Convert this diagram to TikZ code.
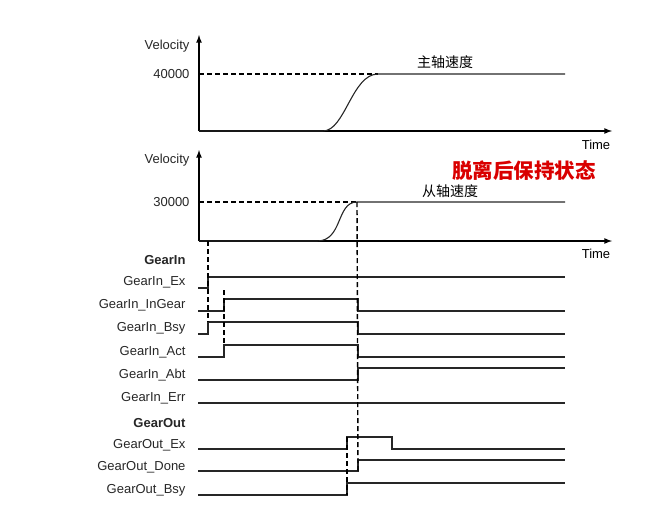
\documentclass[tikz,border=0pt]{standalone}
\usepackage{fontspec}
\setmainfont{Liberation Sans}
\newfontfamily\cjk{Noto Sans CJK SC}
\begin{document}
\begin{tikzpicture}[x=1pt,y=-1pt,
  lbl/.style={anchor=east,font=\fontsize{13}{14}\selectfont,text=black!85},
  sig/.style={line width=1.1pt,black!85},
  ax/.style={line width=1.6pt},
  dsh/.style={line width=1.4pt,dash pattern=on 5pt off 3pt}]
\useasboundingbox (0,0) rectangle (647,515);
% top chart
\coordinate (o1) at (199,131);
\coordinate (y1) at (199,35);
\coordinate (x1) at (612,131);
\draw[ax,-latex] (o1) -- (y1);
\draw[ax,-latex] (o1) -- (x1);
\node[lbl] (v1) at (193,46) {Velocity};
\node[lbl] (n40) at (193,74) {40000};
\node[font=\fontsize{13}{14}\selectfont] (t1) at (596,145) {Time};
\coordinate (m0) at (323,131);
\coordinate (m1) at (378,74);
\coordinate (m2) at (565,74);
\draw[dsh] (199,74) -- (m1);
\draw[sig] (o1) -- (m0) .. controls (345,131) and (352,74) .. (m1) -- (m2);
\node[font=\cjk\fontsize{14}{15}\selectfont] (zs) at (445,62) {主轴速度};
% second chart
\coordinate (o2) at (199,241);
\coordinate (y2) at (199,150);
\coordinate (x2) at (612,241);
\draw[ax,-latex] (o2) -- (y2);
\draw[ax,-latex] (o2) -- (x2);
\node[lbl] (v2) at (193,160) {Velocity};
\node[lbl] (n30) at (193,202) {30000};
\node[font=\fontsize{13}{14}\selectfont] (t2) at (596,254) {Time};
\node[font=\cjk\bfseries\fontsize{20.5}{22}\selectfont,text=red!85!black] (red) at (524,171) {脱离后保持状态};
\coordinate (s0) at (317,241);
\coordinate (s1) at (357,202);
\coordinate (s2) at (565,202);
\draw[dsh] (199,202) -- (s1);
\draw[sig] (o2) -- (s0) .. controls (343,241) and (336,202) .. (s1) -- (s2);
\node[font=\cjk\fontsize{14}{15}\selectfont] (cs) at (450,191) {从轴速度};
% signals
\node[lbl,font=\bfseries\fontsize{13}{14}\selectfont] (gi) at (189,260) {GearIn};
\node[lbl] (l1) at (189,282) {GearIn\_Ex};
\node[lbl] (l2) at (189,305) {GearIn\_InGear};
\node[lbl] (l3) at (189,328) {GearIn\_Bsy};
\node[lbl] (l4) at (189,352) {GearIn\_Act};
\node[lbl] (l5) at (189,375) {GearIn\_Abt};
\node[lbl] (l6) at (189,398) {GearIn\_Err};
\node[lbl,font=\bfseries\fontsize{13}{14}\selectfont] (go) at (189,423) {GearOut};
\node[lbl] (l7) at (189,445) {GearOut\_Ex};
\node[lbl] (l8) at (189,467) {GearOut\_Done};
\node[lbl] (l9) at (189,490) {GearOut\_Bsy};
\draw[sig] (198,288) -- (208,288) -- (208,277) -- (565,277);
\draw[sig] (198,311) -- (224,311) -- (224,299) -- (358,299) -- (358,311) -- (565,311);
\draw[sig] (198,334) -- (208,334) -- (208,322) -- (358,322) -- (358,334) -- (565,334);
\draw[sig] (198,357) -- (224,357) -- (224,345) -- (358,345) -- (358,357) -- (565,357);
\draw[sig] (198,380) -- (358,380) -- (358,368) -- (565,368);
\draw[sig] (198,403) -- (565,403);
\draw[sig] (198,449) -- (347,449) -- (347,437) -- (392,437) -- (392,449) -- (565,449);
\draw[sig] (198,471) -- (358,471) -- (358,460) -- (565,460);
\draw[sig] (198,495) -- (347,495) -- (347,483) -- (565,483);
% dashed verticals
\draw[dsh] (208,241) -- (208,322);
\draw[dsh] (224,290) -- (224,345);
\draw[dsh] (s1) -- (358,471);
\draw[dsh] (347,437) -- (347,495);
\end{tikzpicture}
\end{document}
